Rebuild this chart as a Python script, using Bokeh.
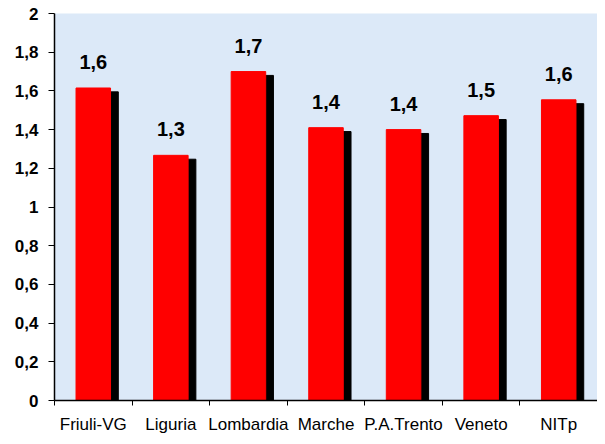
from bokeh.plotting import figure
from bokeh.models import Range1d, FixedTicker, ColumnDataSource
from bokeh.core.properties import value
from bokeh.embed import file_html
from bokeh.resources import INLINE

categories = ["Friuli-VG", "Liguria", "Lombardia", "Marche", "P.A.Trento", "Veneto", "NITp"]
values = [1.615, 1.267, 1.70, 1.41, 1.40, 1.472, 1.554]
bar_labels = ["1,6", "1,3", "1,7", "1,4", "1,4", "1,5", "1,6"]
y_ticks = [0, 0.2, 0.4, 0.6, 0.8, 1.0, 1.2, 1.4, 1.6, 1.8, 2.0]
y_tick_labels = ["0", "0,2", "0,4", "0,6", "0,8", "1", "1,2", "1,4", "1,6", "1,8", "2"]

n = len(categories)
xs = [i + 0.5 for i in range(n)]
src = ColumnDataSource(dict(x=xs, top=values, lab=bar_labels,
                            xs=[x + 0.10 for x in xs], tops=[v - 0.02 for v in values]))

p = figure(width=597, height=436, output_backend="svg", toolbar_location=None,
           x_range=Range1d(0, n), y_range=Range1d(0, 2),
           min_border_left=54, min_border_right=0, min_border_top=13, min_border_bottom=33)
p.background_fill_color = "#dce9f8"
p.border_fill_color = "white"
p.outline_line_color = None
p.grid.visible = False

p.vbar(x="xs", top="tops", bottom=0, width=0.445, source=src, color="black")
p.vbar(x="x", top="top", bottom=0, width=0.445, source=src, color="#ff0000")
p.text(x="x", y="top", text="lab", source=src, y_offset=-19,
       text_align="center", text_baseline="bottom",
       text_font=value("Liberation Sans"), text_font_style="bold",
       text_font_size="20px", text_color="black")

xa = p.xaxis[0]
xa.ticker = FixedTicker(ticks=xs, minor_ticks=list(range(n + 1)))
xa.major_label_overrides = {x: c for x, c in zip(xs, categories)}
xa.major_tick_out = 0
xa.major_tick_in = 0
xa.minor_tick_out = 5
xa.minor_tick_in = 0
xa.minor_tick_line_color = "black"
xa.axis_line_color = "black"
xa.axis_line_width = 1.5
xa.major_label_standoff = 9
xa.major_label_text_font = "Liberation Sans"
xa.major_label_text_font_size = "17px"
xa.major_label_text_color = "black"

ya = p.yaxis[0]
ya.ticker = FixedTicker(ticks=y_ticks, minor_ticks=[])
ya.major_label_overrides = {t: l for t, l in zip(y_ticks, y_tick_labels)}
ya.major_tick_out = 6
ya.major_tick_in = 0
ya.axis_line_color = "black"
ya.axis_line_width = 1.5
ya.major_label_standoff = 10
ya.major_label_text_font = "Liberation Sans"
ya.major_label_text_font_style = "bold"
ya.major_label_text_font_size = "17px"
ya.major_label_text_color = "black"

open("out.html", "w").write(file_html(p, INLINE))
